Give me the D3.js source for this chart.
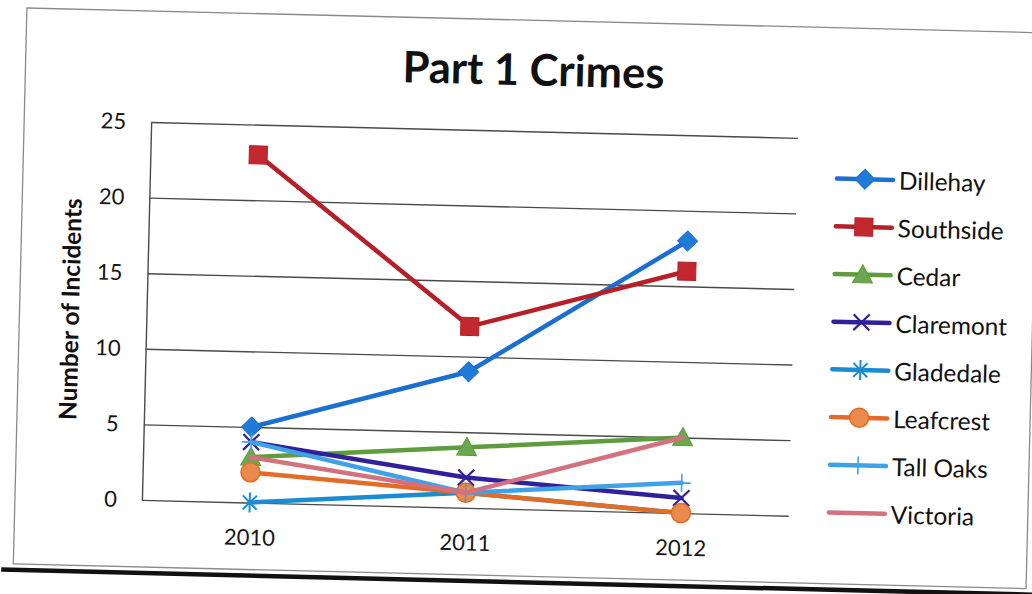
<!DOCTYPE html>
<html><head><meta charset="utf-8">
<script src="https://cdn.jsdelivr.net/npm/d3@7"></script>
<style>html,body{margin:0;padding:0;background:#fff;} svg{display:block;}</style>
</head><body>
<svg id="c" width="1032" height="594"></svg>
<script>
// ---- data ----
const years = ["2010", "2011", "2012"];
const yTicks = [0, 5, 10, 15, 20, 25];
const names = ["Dillehay", "Southside", "Cedar", "Claremont", "Gladedale", "Leafcrest", "Tall Oaks", "Victoria"];
const dillehay  = [5, 9, 18];
const southside = [23, 12, 16];
const cedar     = [3, 4, 5];
const claremont = [4, 2, 1];
const gladedale = [0, 1, 0];
const leafcrest = [2, 1, 0];
const tallOaks  = [4, 1, 2];
const victoria  = [3, 1, 5];
const values = [dillehay, southside, cedar, claremont, gladedale, leafcrest, tallOaks, victoria];

// ---- styles ----
const colors  = ["#1b6fd0", "#b71f26", "#5e9c3c", "#30209a", "#1a8cd0", "#e26b27", "#3fa2e8", "#d4717f"];
const fills   = ["#1f7ad8", "#c2292f", "#6aa84f", "none", "none", "#ea8a4c", "none", "none"];
const markers = ["diamond", "square", "triangle", "x", "asterisk", "circle", "plus", "none"];
const FONT = "Lato, 'Open Sans', sans-serif";

const svg = d3.select("#c");
svg.append("rect").attr("width", 1032).attr("height", 594).attr("fill", "#fff");
const g = svg.append("g").attr("transform", "rotate(1.4,516,297)");

function sizeFor(text, weight, target) {
  const t = g.append("text").attr("font-family", FONT).attr("font-weight", weight)
    .attr("font-size", 20).text(text);
  const w = t.node().getComputedTextLength();
  t.remove();
  return 20 * target / w;
}
const tickFs   = sizeFor("2010", "normal", 51);
const legFs    = sizeFor("Southside", "normal", 106);
const titleFs  = sizeFor("Part 1 Crimes", "bold", 262);
const yTitleFs = sizeFor("Number of Incidents", "bold", 222);

// chart border and scan edge
g.append("rect").attr("x", 20).attr("y", 20).attr("width", 1013).attr("height", 556)
  .attr("fill", "none").attr("stroke", "#8a8a8a").attr("stroke-width", 1.3);
g.append("line").attr("x1", 8).attr("x2", 1050).attr("y1", 582).attr("y2", 582)
  .attr("stroke", "#111").attr("stroke-width", 4.5);

const L = 147, R = 794, T = 131, B = 509;
const x = d3.scalePoint().domain(years).range([L, R]).padding(0.5);
const y = d3.scaleLinear().domain([0, 25]).range([B, T]);

// y axis with gridlines
const ya = g.append("g").attr("transform", `translate(${L},0)`)
  .call(d3.axisLeft(y).tickValues(yTicks).tickSize(-(R - L)).tickSizeOuter(0).tickPadding(25));
ya.selectAll("line").attr("stroke", "#4a4a4a").attr("stroke-width", 1.4);
ya.select(".domain").attr("stroke", "#4a4a4a").attr("stroke-width", 1.4);
ya.selectAll("text").attr("font-family", FONT).attr("font-size", tickFs).attr("fill", "#151515");

// x axis
const xa = g.append("g").attr("transform", `translate(0,${B})`)
  .call(d3.axisBottom(x).tickSize(0).tickPadding(27));
xa.select(".domain").remove();
xa.selectAll("text").attr("font-family", FONT).attr("font-size", tickFs).attr("fill", "#151515");

// titles
g.append("text").attr("x", 528).attr("y", 68).attr("text-anchor", "middle")
  .attr("dominant-baseline", "central").attr("font-family", FONT).attr("font-weight", "bold")
  .attr("font-size", titleFs).attr("fill", "#111").text("Part 1 Crimes");
g.append("text").attr("transform", "translate(70,320) rotate(-90)").attr("text-anchor", "middle")
  .attr("dominant-baseline", "central").attr("font-family", FONT).attr("font-weight", "bold")
  .attr("font-size", yTitleFs).attr("fill", "#111").text("Number of Incidents");

function marker(sel, type, color, fill) {
  switch (type) {
    case "diamond":
      sel.append("path").attr("d", "M0,-10L10,0L0,10L-10,0Z").attr("fill", fill).attr("stroke", color).attr("stroke-width", 1); break;
    case "square":
      sel.append("rect").attr("x", -9).attr("y", -9).attr("width", 18).attr("height", 18)
        .attr("fill", fill).attr("stroke", color).attr("stroke-width", 1); break;
    case "triangle":
      sel.append("path").attr("d", "M0,-10L10,8L-10,8Z").attr("fill", fill).attr("stroke", color).attr("stroke-width", 1); break;
    case "x":
      sel.append("path").attr("d", "M-8,-8L8,8M-8,8L8,-8").attr("stroke", color).attr("stroke-width", 2.2).attr("fill", "none"); break;
    case "asterisk":
      sel.append("path").attr("d", "M-7,-7L7,7M-7,7L7,-7M0,-10L0,10").attr("stroke", color).attr("stroke-width", 2).attr("fill", "none"); break;
    case "circle":
      sel.append("circle").attr("r", 9.5).attr("fill", fill).attr("stroke", color).attr("stroke-width", 1.5); break;
    case "plus":
      sel.append("path").attr("d", "M-9,0L9,0M0,-9L0,9").attr("stroke", color).attr("stroke-width", 1.6).attr("fill", "none"); break;
  }
}

const line = d3.line().x((d, i) => x(years[i])).y(d => y(d));
values.forEach((vals, s) => {
  const sg = g.append("g");
  sg.append("path").datum(vals).attr("d", line).attr("fill", "none")
    .attr("stroke", colors[s]).attr("stroke-width", 4.5)
    .attr("stroke-linecap", "round").attr("stroke-linejoin", "round");
  vals.forEach((v, i) => {
    const mg = sg.append("g").attr("transform", `translate(${x(years[i])},${y(v)})`);
    marker(mg, markers[s], colors[s], fills[s]);
  });
});

// legend
names.forEach((n, i) => {
  const lg = g.append("g").attr("transform", `translate(862,${170.8 + i * 47.7})`);
  lg.append("line").attr("x1", -28).attr("x2", 28).attr("stroke", colors[i])
    .attr("stroke-width", 4.5).attr("stroke-linecap", "round");
  marker(lg, markers[i], colors[i], fills[i]);
  lg.append("text").attr("x", 34).attr("dominant-baseline", "central")
    .attr("font-family", FONT).attr("font-size", legFs).attr("fill", "#111").text(n);
});
</script>
</body></html>
